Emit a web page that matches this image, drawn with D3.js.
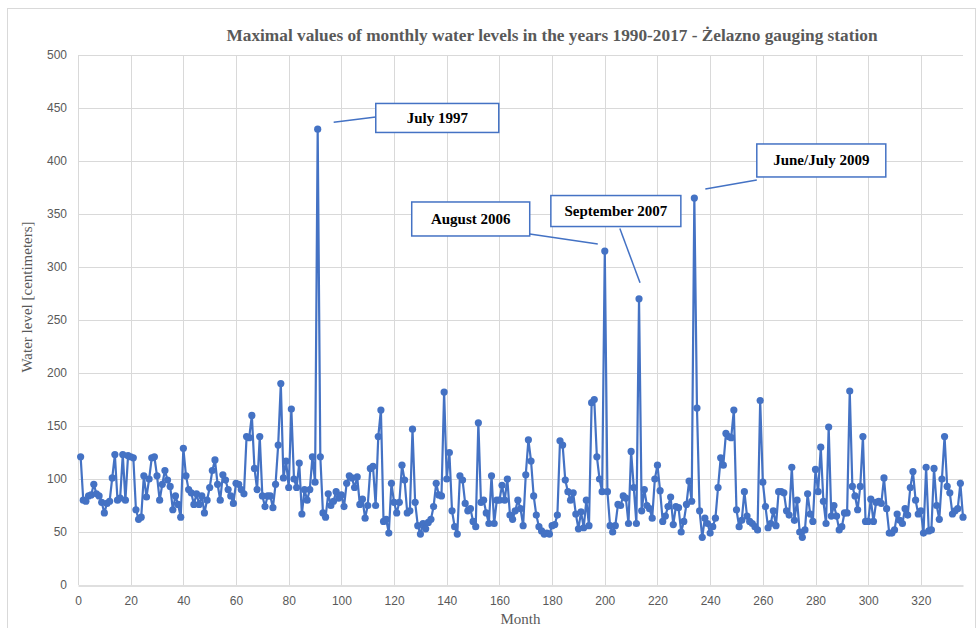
<!DOCTYPE html>
<html>
<head>
<meta charset="utf-8">
<script src="https://cdn.jsdelivr.net/npm/d3@7"></script>
<style>
  html, body { margin: 0; padding: 0; background: #ffffff; }
  svg { display: block; }
</style>
</head>
<body>
<svg id="chart" width="977" height="628"></svg>
<script>
// ---- Data ----
const chartTitle = "Maximal values of monthly water levels in the years 1990-2017 - Żelazno gauging station";
const xAxisTitle = "Month";
const yAxisTitle = "Water level [centimeters]";

// month index 1..336 (Jan 1990 .. Dec 2017)
const waterLevels = [
  121, 80, 79, 84, 85, 95, 86, 84, 78, 68, 77, 79, 101, 123, 80, 82, 123, 80, 122, 121,
  120, 71, 62, 64, 103, 83, 100, 120, 121, 103, 80, 95, 108, 99, 93, 71, 84, 76, 64, 129,
  103, 90, 87, 76, 86, 76, 84, 68, 80, 92, 108, 118, 95, 80, 104, 99, 90, 84, 77, 96,
  95, 90, 86, 140, 139, 160, 110, 90, 140, 84, 74, 84, 84, 73, 95, 132, 190, 101, 117, 92,
  166, 100, 92, 115, 67, 90, 80, 90, 121, 97, 430, 121, 68, 64, 86, 75, 79, 88, 82, 85,
  74, 96, 103, 101, 92, 102, 76, 81, 63, 75, 110, 112, 75, 140, 165, 60, 62, 49, 96, 78,
  68, 78, 113, 99, 68, 70, 147, 78, 56, 48, 58, 53, 59, 62, 74, 96, 85, 84, 182, 100,
  125, 70, 55, 48, 103, 99, 77, 70, 72, 60, 55, 153, 78, 80, 68, 58, 103, 58, 80, 80,
  94, 80, 100, 66, 62, 70, 80, 72, 56, 104, 137, 117, 84, 66, 55, 51, 48, 49, 48, 56,
  57, 66, 136, 132, 99, 88, 80, 87, 67, 53, 69, 54, 80, 56, 172, 175, 121, 100, 88, 315,
  88, 56, 50, 56, 76, 75, 84, 82, 58, 126, 92, 58, 270, 70, 90, 75, 72, 63, 100, 113,
  89, 60, 65, 74, 83, 57, 74, 73, 50, 60, 76, 98, 79, 365, 167, 70, 45, 63, 58, 49,
  55, 63, 92, 120, 113, 143, 140, 139, 165, 71, 55, 61, 88, 65, 60, 58, 55, 52, 174, 97,
  74, 54, 58, 70, 56, 88, 88, 87, 70, 66, 111, 61, 80, 50, 45, 52, 86, 67, 60, 109,
  88, 130, 79, 58, 149, 65, 75, 65, 52, 55, 68, 68, 183, 93, 84, 71, 93, 140, 60, 60,
  81, 60, 78, 79, 77, 101, 72, 49, 49, 52, 67, 61, 58, 72, 66, 92, 107, 80, 67, 70,
  49, 111, 51, 52, 110, 75, 62, 100, 140, 93, 87, 67, 70, 72, 96, 64
];
const xTicks = [0, 20, 40, 60, 80, 100, 120, 140, 160, 180, 200, 220, 240, 260, 280, 300, 320];
const yTicks = [0, 50, 100, 150, 200, 250, 300, 350, 400, 450, 500];

// annotation labels: the point they refer to (month) and where the label sits (in data units)
const annotationTexts  = ["July 1997", "August 2006", "September 2007", "June/July 2009"];
const annotationMonths = [91, 200, 213, 234];
const annotationBoxMonth = [136.4, 149.1, 204.2, 282.2];
const annotationBoxLevel = [440.6, 345.3, 352.8, 400.5];

// ---- Layout ----
const W = 977, H = 628;
const margin = { left: 78, right: 14, top: 55, bottom: 43 };
const svg = d3.select("#chart");

const x = d3.scaleLinear().domain([0, 336]).range([margin.left, W - margin.right]);
const y = d3.scaleLinear().domain([0, 500]).range([H - margin.bottom, margin.top]);

const serif = "'Liberation Serif', 'Times New Roman', serif";
const sans = "'Liberation Sans', Arial, sans-serif";

// annotation box sizes (px)
const boxW = [123, 118, 130, 129];
const boxH = [29, 34, 31, 33];

// outer chart frame
svg.append("rect")
  .attr("x", 7.5).attr("y", 8.5)
  .attr("width", W - 8 - 1).attr("height", H + 10)
  .attr("fill", "none").attr("stroke", "#d9d9d9").attr("stroke-width", 1);

// gridlines
const grid = svg.append("g");
grid.selectAll("line.h").data(yTicks.filter(d => d > 0)).join("line")
  .attr("x1", x(0)).attr("x2", x(336))
  .attr("y1", d => Math.round(y(d)) + 0.5).attr("y2", d => Math.round(y(d)) + 0.5)
  .attr("stroke", "#d9d9d9").attr("stroke-width", 1);
grid.selectAll("line.v").data(xTicks).join("line")
  .attr("x1", d => Math.round(x(d)) + 0.5).attr("x2", d => Math.round(x(d)) + 0.5)
  .attr("y1", y(0)).attr("y2", y(500))
  .attr("stroke", "#d9d9d9").attr("stroke-width", 1);

// axes
const xAxis = svg.append("g")
  .attr("transform", `translate(0,${Math.round(y(0)) + 0.5})`)
  .call(d3.axisBottom(x).tickValues(xTicks).tickSize(0).tickPadding(11));
xAxis.select(".domain").attr("stroke", "#bfbfbf").attr("stroke-width", 1.2);
xAxis.selectAll("text").attr("fill", "#595959").style("font-family", sans).style("font-size", "12px");

const yAxis = svg.append("g")
  .attr("transform", `translate(${margin.left},0)`)
  .call(d3.axisLeft(y).tickValues(yTicks).tickSize(0).tickPadding(11));
yAxis.select(".domain").remove();
yAxis.selectAll("text").attr("fill", "#595959").style("font-family", sans).style("font-size", "12px");

// title
svg.append("text")
  .attr("x", 552).attr("y", 41)
  .attr("text-anchor", "middle")
  .attr("fill", "#595959")
  .style("font-family", serif).style("font-weight", "bold").style("font-size", "17.3px")
  .text(chartTitle);

// axis titles
svg.append("text")
  .attr("x", x(168)).attr("y", 624)
  .attr("text-anchor", "middle")
  .attr("fill", "#595959")
  .style("font-family", serif).style("font-size", "15px")
  .text(xAxisTitle);
svg.append("text")
  .attr("transform", `translate(32,297) rotate(-90)`)
  .attr("text-anchor", "middle")
  .attr("fill", "#595959")
  .style("font-family", serif).style("font-size", "15px")
  .text(yAxisTitle);

// series
const pts = waterLevels.map((v, i) => ({ m: i + 1, v }));
const color = "#4472c4";
svg.append("path")
  .datum(pts)
  .attr("fill", "none").attr("stroke", color).attr("stroke-width", 2.2)
  .attr("stroke-linejoin", "round")
  .attr("d", d3.line().x(d => x(d.m)).y(d => y(d.v)));
svg.append("g").selectAll("circle").data(pts).join("circle")
  .attr("cx", d => x(d.m)).attr("cy", d => y(d.v)).attr("r", 3.6)
  .attr("fill", color);

// annotations
const ann = annotationTexts.map((t, i) => ({
  text: t,
  px: x(annotationMonths[i]), py: y(waterLevels[annotationMonths[i] - 1]),
  bx: x(annotationBoxMonth[i]), by: y(annotationBoxLevel[i]),
  bw: boxW[i], bh: boxH[i]
}));
const annG = svg.append("g");
ann.forEach((a, i) => {
  const rx = a.bx - a.bw / 2, ry = a.by - a.bh / 2;
  let lx1, ly1, lx2, ly2;
  if (i === 0) { lx1 = a.px + 16; ly1 = a.py - 7; lx2 = rx; ly2 = a.by - 1; }
  else if (i === 1) { lx1 = rx + a.bw; ly1 = ry + a.bh - 2; lx2 = a.px - 7; ly2 = a.py - 7; }
  else if (i === 2) { lx1 = a.bx + 4; ly1 = ry + a.bh + 2; lx2 = a.px + 1; ly2 = a.py - 16; }
  else { lx1 = rx; ly1 = ry + a.bh + 3; lx2 = a.px + 11; ly2 = a.py - 9; }
  annG.append("line")
    .attr("x1", lx1).attr("y1", ly1).attr("x2", lx2).attr("y2", ly2)
    .attr("stroke", color).attr("stroke-width", 1.5);
  annG.append("rect")
    .attr("x", rx).attr("y", ry).attr("width", a.bw).attr("height", a.bh)
    .attr("fill", "#fff").attr("stroke", color).attr("stroke-width", 1.5);
  annG.append("text")
    .attr("x", a.bx).attr("y", a.by + 5)
    .attr("text-anchor", "middle")
    .attr("fill", "#000")
    .style("font-family", serif).style("font-weight", "bold").style("font-size", "15px")
    .text(a.text);
});
</script>
</body>
</html>
